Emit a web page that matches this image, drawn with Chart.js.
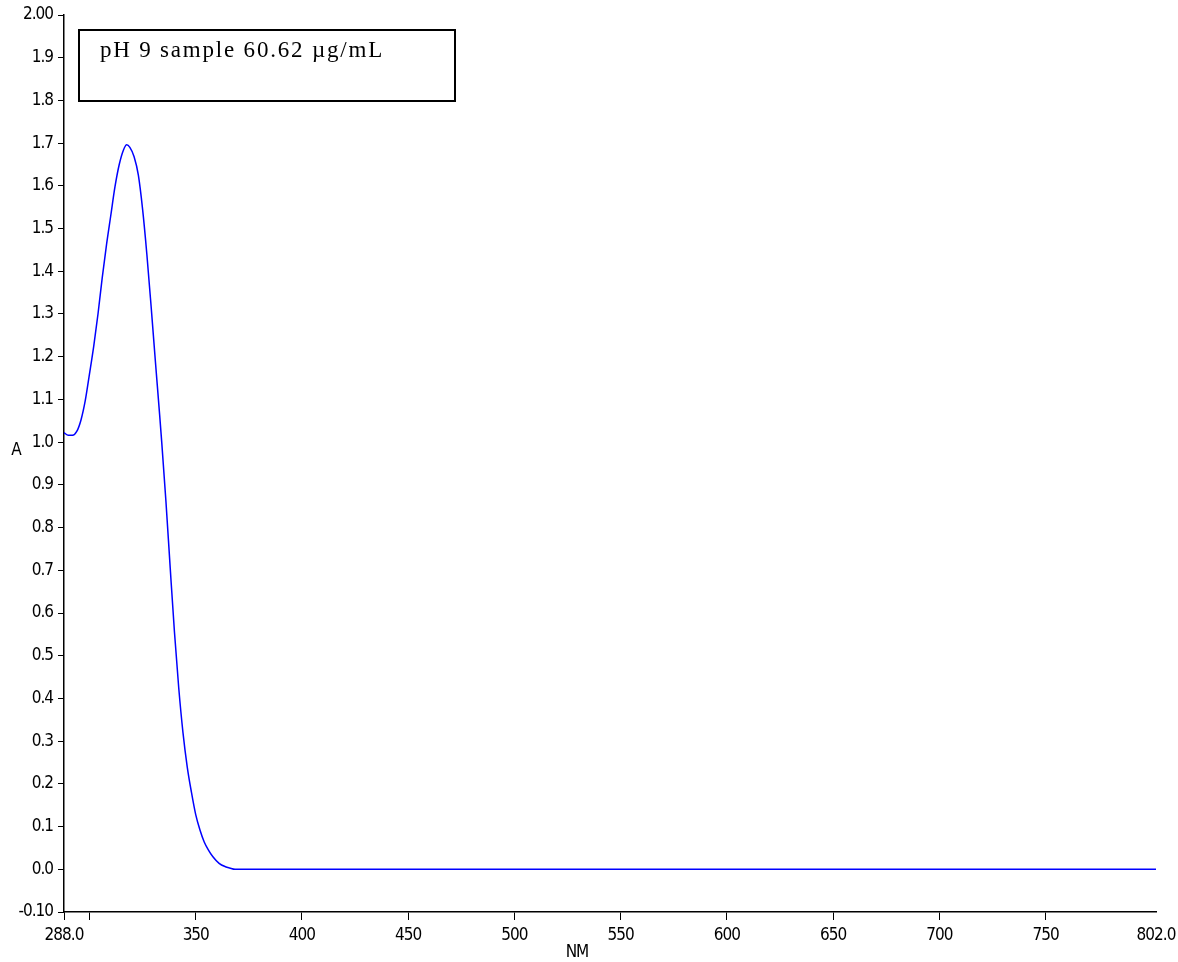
<!DOCTYPE html>
<html>
<head>
<meta charset="utf-8">
<title>pH 9 sample spectrum</title>
<script src="https://cdn.jsdelivr.net/npm/chart.js@4.4.1/dist/chart.umd.min.js"></script>
<style>
    html, body { margin: 0; padding: 0; background: #ffffff; }
    #wrap { width: 1178px; height: 962px; position: relative; }
</style>
</head>
<body>
<div id="wrap"><canvas id="spectrum"></canvas></div>
<script>
// --- data ---
const wavelengths = [288, 290, 292, 294, 296, 298, 300, 302, 304, 306, 308, 310, 312, 314, 316, 317.5, 319, 321, 323, 325, 327, 329, 331, 333, 334, 336, 338, 340, 342, 344, 346, 348, 350, 352, 354, 356, 358, 361, 364, 366, 368.5, 400, 450, 500, 550, 600, 650, 700, 750, 802];
const absorbance  = [1.022, 1.016, 1.016, 1.025, 1.052, 1.097, 1.160, 1.225, 1.300, 1.385, 1.462, 1.530, 1.598, 1.650, 1.684, 1.696, 1.690, 1.668, 1.625, 1.545, 1.440, 1.318, 1.190, 1.065, 1.000, 0.860, 0.705, 0.555, 0.425, 0.320, 0.240, 0.180, 0.128, 0.092, 0.064, 0.045, 0.030, 0.014, 0.006, 0.003, 0.000, 0, 0, 0, 0, 0, 0, 0, 0, 0];
const xTickValues = [288, 300, 350, 400, 450, 500, 550, 600, 650, 700, 750, 802];
const xHiddenLabels = [300];
const yMin = -0.1, yMax = 2.0, yStep = 0.1;
const labelText = 'pH 9 sample 60.62 µg/mL';
const xTitle = 'NM';
const yTitle = 'A';

const tickFont = { family: "'Liberation Sans Narrow', 'DejaVu Sans Condensed', 'Liberation Sans', Arial, sans-serif", size: 17 };

// narrow the tick text a little, like the instrument printout
const tightText = {
    id: 'tightText',
    beforeUpdate(chart) { chart.ctx.letterSpacing = '-1px'; },
    beforeDraw(chart) { chart.ctx.letterSpacing = '-1px'; }
};

// the boxed sample label and the axis names
const extras = {
    id: 'extras',
    afterDraw(chart) {
        const ctx = chart.ctx;
        ctx.save();
        ctx.strokeStyle = '#000000';
        ctx.lineWidth = 2;
        ctx.strokeRect(79, 30, 376, 71);
        ctx.fillStyle = '#000000';
        ctx.letterSpacing = '1.8px';
        ctx.font = "23px 'Liberation Serif', 'Times New Roman', serif";
        ctx.textBaseline = 'alphabetic';
        ctx.textAlign = 'left';
        ctx.fillText(labelText, 100, 57);

        ctx.letterSpacing = '-1px';
        ctx.font = "17px " + tickFont.family;
        ctx.textAlign = 'center';
        ctx.textBaseline = 'middle';
        ctx.fillText(yTitle, 16, 451);
        ctx.fillText(xTitle, 577, 953);
        ctx.restore();
    }
};

function fmtY(v) {
    if (Math.abs(v - yMax) < 1e-6) return '2.00';
    if (Math.abs(v - yMin) < 1e-6) return '-0.10';
    return v.toFixed(1);
}

function fmtX(v) {
    if (xHiddenLabels.includes(v)) return '';
    if (v === 288 || v === 802) return v.toFixed(1);
    return String(v);
}

window.initChart = function() {
    if (typeof Chart === 'undefined') {
        console.warn('Chart.js Not Loaded.');
        return;
    }
    const points = wavelengths.map((w, i) => ({ x: w, y: absorbance[i] }));
    new Chart(document.getElementById('spectrum'), {
        type: 'line',
        data: {
            datasets: [{
                data: points,
                borderColor: '#0000ff',
                borderWidth: 1.5,
                pointRadius: 0,
                fill: false,
                cubicInterpolationMode: 'monotone'
            }]
        },
        options: {
            responsive: true, maintainAspectRatio: false,
            animation: false,
            layout: { padding: { top: 15, right: 22, left: 0, bottom: 0 } },
            plugins: { legend: { display: false }, tooltip: { enabled: false } },
            scales: {
                x: {
                    type: 'linear',
                    min: 288, max: 802,
                    afterBuildTicks(scale) { scale.ticks = xTickValues.map(v => ({ value: v })); },
                    afterFit(scale) {
                        scale.height = 50;
                        scale.paddingLeft = 0;
                        scale.paddingRight = 0;
                    },
                    grid: {
                        drawOnChartArea: false, drawTicks: true, tickLength: 8,
                        color: '#000000',
                        tickColor: ctx => (ctx.tick && ctx.tick.value === 802) ? 'rgba(0,0,0,0)' : '#000000'
                    },
                    border: { color: '#000000', width: 1.5 },
                    ticks: { color: '#000000', font: tickFont, padding: 5, maxRotation: 0, autoSkip: false, callback: fmtX }
                },
                y: {
                    min: yMin, max: yMax,
                    afterFit(scale) {
                        scale.width = 64;
                        scale.paddingTop = 0;
                        scale.paddingBottom = 0;
                    },
                    grid: { drawOnChartArea: false, drawTicks: true, tickLength: 6, color: '#000000', tickColor: '#000000' },
                    border: { color: '#000000', width: 1.5 },
                    ticks: { color: '#000000', font: tickFont, stepSize: yStep, padding: 5, autoSkip: false, callback: fmtY }
                }
            }
        },
        plugins: [tightText, extras]
    });
};

document.addEventListener('DOMContentLoaded', () => {
    try {
        window.initChart();
    } catch (error) {
        console.error('Chart Rendering Error:', error);
    }
});
</script>
</body>
</html>
